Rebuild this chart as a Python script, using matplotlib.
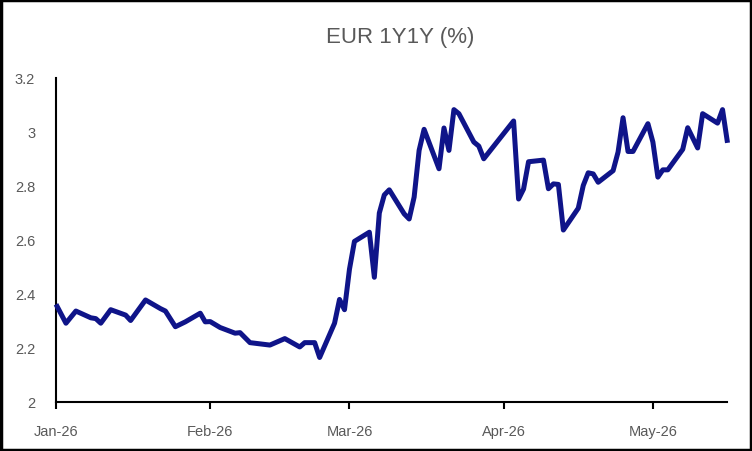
import matplotlib
matplotlib.use("Agg")
import matplotlib.pyplot as plt
import matplotlib.dates as mdates
from matplotlib.patches import Rectangle
import numpy as np
import datetime as dt

# Data (vertices)
dates = [
    "2026-01-01", "2026-01-03", "2026-01-05", "2026-01-08", "2026-01-09", "2026-01-10",
    "2026-01-12", "2026-01-15", "2026-01-16", "2026-01-19", "2026-01-22", "2026-01-23",
    "2026-01-25", "2026-01-27", "2026-01-30", "2026-01-31",
    "2026-02-01", "2026-02-03", "2026-02-06", "2026-02-07", "2026-02-09", "2026-02-13",
    "2026-02-16", "2026-02-19", "2026-02-20", "2026-02-22", "2026-02-23", "2026-02-26",
    "2026-02-27", "2026-02-28",
    "2026-03-01", "2026-03-02", "2026-03-05", "2026-03-06", "2026-03-07", "2026-03-08",
    "2026-03-09", "2026-03-12", "2026-03-13", "2026-03-14", "2026-03-15", "2026-03-16",
    "2026-03-19", "2026-03-20", "2026-03-21", "2026-03-22", "2026-03-23", "2026-03-26",
    "2026-03-27", "2026-03-28",
    "2026-04-03", "2026-04-04", "2026-04-05", "2026-04-06", "2026-04-09", "2026-04-10",
    "2026-04-11", "2026-04-12", "2026-04-13", "2026-04-16", "2026-04-17", "2026-04-18",
    "2026-04-19", "2026-04-20", "2026-04-23", "2026-04-24", "2026-04-25", "2026-04-26",
    "2026-04-27", "2026-04-30",
    "2026-05-01", "2026-05-02", "2026-05-03", "2026-05-04", "2026-05-07", "2026-05-08",
    "2026-05-10", "2026-05-11", "2026-05-14", "2026-05-15", "2026-05-16",
]
values = [
    2.36, 2.29, 2.335, 2.31, 2.307, 2.29,
    2.34, 2.32, 2.30, 2.376, 2.344, 2.335,
    2.277, 2.295, 2.327, 2.295,
    2.296, 2.274, 2.253, 2.255, 2.218, 2.209,
    2.233, 2.202, 2.218, 2.218, 2.163, 2.29,
    2.378, 2.34,
    2.49, 2.593, 2.627, 2.46, 2.698, 2.765,
    2.784, 2.695, 2.676, 2.757, 2.93, 3.008,
    2.862, 3.013, 2.93, 3.081, 3.066, 2.961,
    2.946, 2.899,
    3.039, 2.75, 2.787, 2.888, 2.894, 2.788,
    2.806, 2.804, 2.635, 2.716, 2.80, 2.847,
    2.843, 2.812, 2.855, 2.924, 3.051, 2.926,
    2.926, 3.029,
    2.961, 2.831, 2.858, 2.858, 2.934, 3.014,
    2.939, 3.066, 3.031, 3.081, 2.958,
]
title = "EUR 1Y1Y (%)"
y_ticks = [2, 2.2, 2.4, 2.6, 2.8, 3, 3.2]
y_tick_labels = ["2", "2.2", "2.4", "2.6", "2.8", "3", "3.2"]
month_ticks = ["2026-01-01", "2026-02-01", "2026-03-01", "2026-04-01", "2026-05-01"]

x = [dt.datetime.strptime(d, "%Y-%m-%d") for d in dates]
xt = [dt.datetime.strptime(d, "%Y-%m-%d") for d in month_ticks]

grey = "#595959"
fig = plt.figure(figsize=(7.52, 4.52), dpi=100)
ax = fig.add_axes([56/752, 1 - 402.5/452, (727.5 - 56)/752, (402.5 - 78.5)/452])

ax.plot(x, values, color="#0F1489", linewidth=3.6, solid_joinstyle="round",
        solid_capstyle="butt", clip_on=False, zorder=3)

ax.set_xlim(xt[0], dt.datetime(2026, 5, 16))
ax.set_ylim(2, 3.2)
ax.set_yticks(y_ticks)
ax.set_yticklabels(y_tick_labels)
ax.set_xticks(xt)
ax.xaxis.set_major_formatter(mdates.DateFormatter("%b-%y"))

for s in ["top", "right"]:
    ax.spines[s].set_visible(False)
for s in ["left", "bottom"]:
    ax.spines[s].set_linewidth(1.5)
    ax.spines[s].set_color("black")
    ax.spines[s].set_zorder(2)

ax.tick_params(axis="y", length=0, pad=15, labelsize=10.5, labelcolor=grey)
ax.tick_params(axis="x", length=5, width=1.5, direction="out", pad=11, labelsize=10.5, labelcolor=grey)
for lab in ax.get_xticklabels() + ax.get_yticklabels():
    lab.set_family(["Liberation Sans", "DejaVu Sans"])

fig.text(400/752, 1 - 38/452, title, ha="center", va="center", fontsize=16,
         color=grey, family=["Liberation Sans Narrow", "Liberation Sans", "DejaVu Sans"])

fig.patches.append(Rectangle((0.0015, 0.0025), 0.997, 0.995, transform=fig.transFigure,
                             fill=False, edgecolor="black", linewidth=2.5))

fig.savefig("out.png", dpi=100)
